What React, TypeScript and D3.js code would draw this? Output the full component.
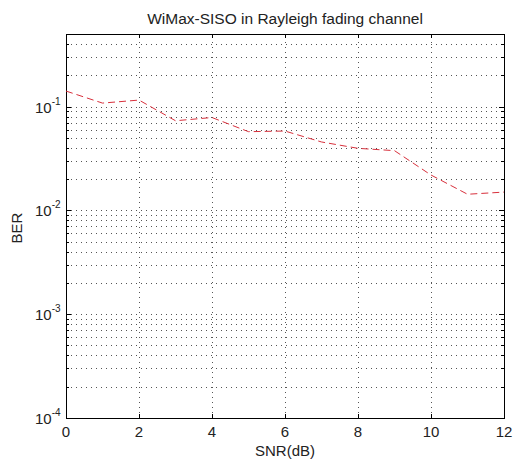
import React, { useEffect, useRef } from "react";
import * as d3 from "d3";

const snr = [0, 1, 2, 3, 4, 5, 6, 7, 8, 9, 10, 11, 12];
const ber = [0.141, 0.108, 0.1155, 0.073, 0.0784, 0.0573, 0.0581, 0.0456, 0.0396, 0.0376, 0.0219, 0.0143, 0.015];
const xTicks = [0, 2, 4, 6, 8, 10, 12];
const yDecades = [-4, -3, -2, -1];
const yDomain = [1e-4, 0.5];

const width = 513;
const height = 461;
const margin = { left: 66, right: 9, top: 34, bottom: 43 };
const font = "Liberation Sans, Arial, Helvetica, sans-serif";

const App = () => {
  const ref = useRef(null);

  useEffect(() => {
    const svg = d3.select(ref.current);
    svg.selectAll("*").remove();

    const x = d3.scaleLinear().domain([0, 12]).range([margin.left, width - margin.right]);
    const y = d3.scaleLog().domain(yDomain).range([height - margin.bottom, margin.top]);
    const [x0, x1] = x.range();
    const [y0, y1] = y.range();

    svg.append("rect").attr("x", x0).attr("y", y1).attr("width", x1 - x0).attr("height", y0 - y1).attr("fill", "#fff");

    // y grid: every minor & major value in domain
    const yGrid: number[] = [];
    for (let e = -4; e <= 0; e++) {
      for (let m = 1; m <= 9; m++) {
        const v = m * Math.pow(10, e);
        if (v > yDomain[0] && v < yDomain[1]) yGrid.push(v);
      }
    }
    const grid = svg.append("g").attr("stroke", "#555").attr("stroke-width", 1).attr("stroke-dasharray", "1,4");
    grid.selectAll(".gy").data(yGrid).join("line")
      .attr("x1", x0).attr("x2", x1)
      .attr("y1", (d) => Math.round(y(d)) + 0.5).attr("y2", (d) => Math.round(y(d)) + 0.5);
    grid.selectAll(".gx").data(xTicks.slice(1, -1)).join("line")
      .attr("class", "gx")
      .attr("x1", (d) => Math.round(x(d)) + 0.5).attr("x2", (d) => Math.round(x(d)) + 0.5)
      .attr("y1", y0).attr("y2", y1);

    // ticks (inside, all sides)
    const ticks = svg.append("g").attr("stroke", "#000").attr("stroke-width", 1);
    const tl = 4;
    xTicks.forEach((t) => {
      const px = Math.round(x(t)) + 0.5;
      ticks.append("line").attr("x1", px).attr("x2", px).attr("y1", y0).attr("y2", y0 - tl);
      ticks.append("line").attr("x1", px).attr("x2", px).attr("y1", y1).attr("y2", y1 + tl);
    });
    yGrid.forEach((t) => {
      const py = Math.round(y(t)) + 0.5;
      const len = yDecades.some((e) => Math.abs(Math.log10(t) - e) < 1e-9) ? tl + 1 : tl - 1;
      ticks.append("line").attr("x1", x0).attr("x2", x0 + len).attr("y1", py).attr("y2", py);
      ticks.append("line").attr("x1", x1).attr("x2", x1 - len).attr("y1", py).attr("y2", py);
    });

    // box
    svg.append("rect")
      .attr("x", x0 + 0.5).attr("y", y1 + 0.5)
      .attr("width", x1 - x0).attr("height", y0 - y1)
      .attr("fill", "none").attr("stroke", "#000").attr("stroke-width", 1);

    // data line
    const line = d3.line<number>().x((d, i) => x(snr[i])).y((d) => y(d));
    svg.append("path")
      .datum(ber)
      .attr("d", line)
      .attr("fill", "none")
      .attr("stroke", "#d8303c")
      .attr("stroke-width", 1)
      .attr("stroke-dasharray", "7,4");

    // x tick labels
    svg.append("g").selectAll("text").data(xTicks).join("text")
      .attr("x", (d) => x(d)).attr("y", y0 + 19)
      .attr("text-anchor", "middle")
      .attr("font-family", font).attr("font-size", 15).attr("fill", "#222")
      .text((d) => d);

    // y tick labels 10^e
    const yl = svg.append("g").attr("font-family", font).attr("fill", "#222");
    yDecades.forEach((e) => {
      const py = y(Math.pow(10, e));
      const t = yl.append("text").attr("x", 35).attr("y", py + 6).attr("font-size", 15);
      t.append("tspan").text("10");
      t.append("tspan").attr("font-size", 10).attr("dy", -8).text(String(e));
    });

    svg.append("text")
      .attr("x", (x0 + x1) / 2).attr("y", 24)
      .attr("text-anchor", "middle")
      .attr("font-family", font).attr("font-size", 15.5).attr("fill", "#222")
      .text("WiMax-SISO in Rayleigh fading channel");

    svg.append("text")
      .attr("x", (x0 + x1) / 2).attr("y", 456)
      .attr("text-anchor", "middle")
      .attr("font-family", font).attr("font-size", 15).attr("fill", "#222")
      .text("SNR(dB)");

    svg.append("text")
      .attr("transform", `translate(22, ${(y0 + y1) / 2 + 2}) rotate(-90)`)
      .attr("text-anchor", "middle")
      .attr("font-family", font).attr("font-size", 15).attr("fill", "#222")
      .text("BER");
  }, []);

  return (
    <svg
      ref={ref}
      width={width}
      height={height}
      viewBox={`0 0 ${width} ${height}`}
      style={{ position: "absolute", left: 0, top: 0, background: "#fff" }}
    />
  );
};

export default App;
